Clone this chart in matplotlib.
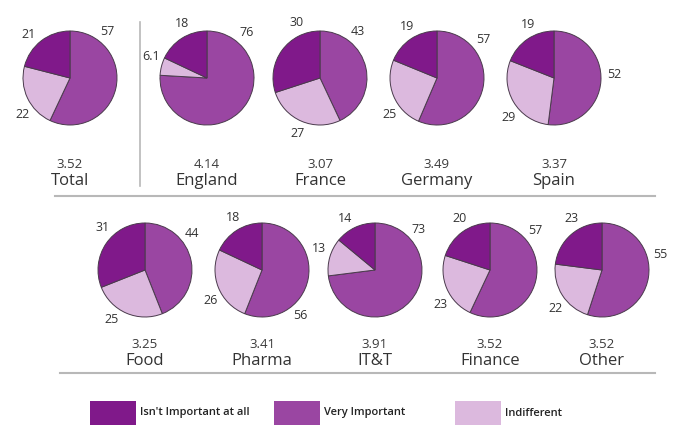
import numpy as np
import matplotlib.pyplot as plt

W, H = 679, 426

# shares in percent: very important, indifferent, isn't important at all
names_top = ['Total', 'England', 'France', 'Germany', 'Spain']
very_top = [57, 76, 43, 57, 52]
indiff_top = [22, 6.1, 27, 25, 29]
isnt_top = [21, 18, 30, 19, 19]
scores_top = ['3.52', '4.14', '3.07', '3.49', '3.37']

names_bot = ['Food', 'Pharma', 'IT&T', 'Finance', 'Other']
very_bot = [44, 56, 73, 57, 55]
indiff_bot = [25, 26, 13, 23, 22]
isnt_bot = [31, 18, 14, 20, 23]
scores_bot = ['3.25', '3.41', '3.91', '3.52', '3.52']

legend_labels = ["Isn't Important at all", 'Very Important', 'Indifferent']

C_VERY = '#9a46a2'
C_INDIFF = '#dcb9de'
C_ISNT = '#80198a'

# layout (pixels, y measured from top)
X_TOP = [70, 207, 320, 437, 554]
X_BOT = [145, 262, 375, 490, 602]
Y_TOP, Y_BOT = 78, 270
R = 47
# label angles (deg) for very, indifferent, isn't
ANG_TOP = [(51, 217, 134), (49, 159, 115), (51, 248, 113), (40, 217, 120), (3, 221, 116)]
ANG_BOT = [(38, 236, 135), (-50, 211, 119), (43, 159, 120), (41, 215, 120), (15, 220, 121)]
LABEL_DIST = 60

plt.rcParams['font.family'] = ['Open Sans', 'DejaVu Sans']

fig = plt.figure(figsize=(W / 100, H / 100), dpi=100)
ax = fig.add_axes([0, 0, 1, 1])


def fmt(v):
    return ('%g' % v)


def draw_row(names, very, indiff, isnt, scores, xs, yc, angs, score_y, name_y):
    for i in range(len(names)):
        vals = [very[i], indiff[i], isnt[i]]
        cx, cy = xs[i], H - yc
        ax.pie(vals, colors=[C_VERY, C_INDIFF, C_ISNT], startangle=90,
               counterclock=False, center=(cx, cy), radius=R, normalize=True,
               wedgeprops=dict(edgecolor='#4a3a4c', linewidth=0.7))
        for v, a in zip(vals, angs[i]):
            t = np.deg2rad(a)
            ax.text(cx + LABEL_DIST * np.cos(t), cy + LABEL_DIST * np.sin(t), fmt(v),
                    ha='center', va='center', fontsize=9, color='#333333')
        ax.text(cx, H - score_y, scores[i], ha='center', va='center',
                fontsize=9.5, color='#3a3a3a')
        ax.text(cx, H - name_y, names[i], ha='center', va='center',
                fontsize=12, color='#333333')


draw_row(names_top, very_top, indiff_top, isnt_top, scores_top,
         X_TOP, Y_TOP, ANG_TOP, 164, 181)
draw_row(names_bot, very_bot, indiff_bot, isnt_bot, scores_bot,
         X_BOT, Y_BOT, ANG_BOT, 345, 361)

# separators
ax.plot([55, 655], [H - 196, H - 196], color='#b8b8b8', lw=1.5)
ax.plot([60, 655], [H - 373, H - 373], color='#b8b8b8', lw=1.5)
ax.plot([140, 140], [H - 22, H - 186], color='#b8b8b8', lw=1.2)

# legend
leg_x = [90, 274, 455]
leg_c = [C_ISNT, C_VERY, C_INDIFF]
for x, c, lab in zip(leg_x, leg_c, legend_labels):
    ax.add_patch(plt.Rectangle((x, H - 425), 46, 24, facecolor=c, edgecolor='none'))
    ax.text(x + 50, H - 413, lab, ha='left', va='center', fontsize=8,
            color='#222222', fontweight='semibold')

ax.set_xlim(0, W)
ax.set_ylim(0, H)
ax.set_aspect('auto')
ax.axis('off')

fig.savefig('out.png', dpi=100)
